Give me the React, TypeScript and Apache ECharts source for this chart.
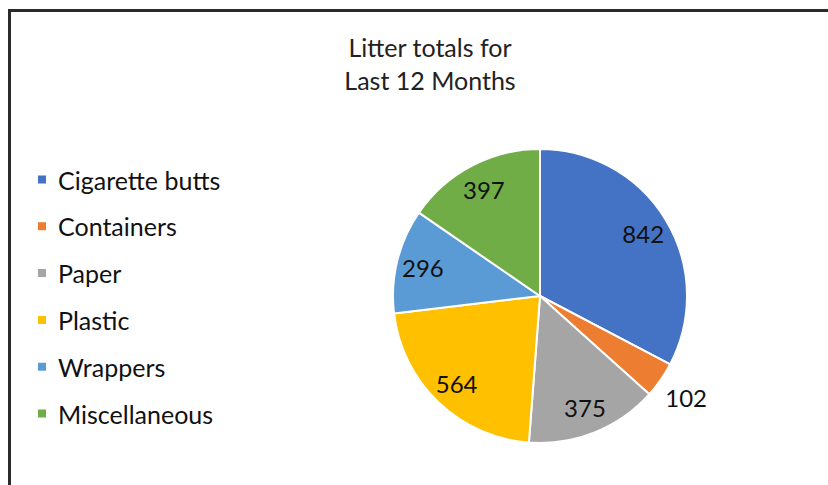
import React, { useEffect, useRef } from "react";
import * as echarts from "echarts";

const categories = ["Cigarette butts", "Containers", "Paper", "Plastic", "Wrappers", "Miscellaneous"];
const values = [842, 102, 375, 564, 296, 397];
const colors = ["#4472C4", "#ED7D31", "#A5A5A5", "#FFC000", "#5B9BD5", "#70AD47"];
const titleLines = ["Litter totals for", "Last 12 Months"];
const outsideLabelCats = ["Containers"];

const FONT = "Lato, 'Noto Sans', sans-serif";

export default function App() {
  const ref = useRef<HTMLDivElement>(null);
  useEffect(() => {
    if (!ref.current) return;
    const chart = echarts.init(ref.current, null, { renderer: "svg" });
    const R = 147;
    const center = [540, 296];
    const data = categories.map((c, i) => ({ name: c, value: values[i], itemStyle: { color: colors[i] } }));
    const labelData = (outside: boolean) =>
      categories.map((c, i) => ({
        name: c,
        value: values[i],
        label: { show: outsideLabelCats.includes(c) === outside },
      }));
    const overlay = (inner: number, outer: number, outside: boolean) => ({
      type: "pie",
      silent: true,
      center,
      radius: [inner, outer],
      startAngle: 90,
      clockwise: true,
      legendHoverLink: false,
      itemStyle: { color: "transparent", borderWidth: 0 },
      label: {
        show: true,
        position: "inside",
        formatter: "{c}",
        fontFamily: FONT,
        fontSize: 24,
        color: "#111",
      },
      labelLine: { show: false },
      emphasis: { disabled: true },
      tooltip: { show: false },
      data: labelData(outside),
    });
    chart.setOption({
      animation: false,
      backgroundColor: "#fff",
      color: colors,
      title: {
        text: titleLines.join("\n"),
        left: 425,
        top: 25,
        textAlign: "center",
        textStyle: { fontFamily: FONT, fontSize: 25, fontWeight: "normal", color: "#222", lineHeight: 33 },
      },
      legend: {
        orient: "vertical",
        left: 36,
        top: 167,
        padding: 0,
        icon: "rect",
        itemWidth: 10,
        itemHeight: 10,
        itemGap: 21.8,
        data: categories,
        textStyle: { fontFamily: FONT, fontSize: 25, color: "#111", lineHeight: 24, padding: [0, 0, 0, 6] },
      },
      graphic: [
        {
          type: "rect",
          silent: true,
          shape: { x: 9.5, y: 10.5, width: 900, height: 600 },
          style: { fill: "none", stroke: "#2b2b2b", lineWidth: 3 },
        },
      ],
      series: [
        {
          type: "pie",
          center,
          radius: [0, R],
          startAngle: 90,
          clockwise: true,
          itemStyle: { borderColor: "#fff", borderWidth: 2 },
          label: { show: false },
          labelLine: { show: false },
          data,
        },
        overlay(R * 0.6, R, false),
        overlay(R, R * 1.38, true),
      ],
    });
    return () => chart.dispose();
  }, []);
  return <div ref={ref} style={{ position: "fixed", left: 0, top: 0, width: 828, height: 485 }} />;
}
